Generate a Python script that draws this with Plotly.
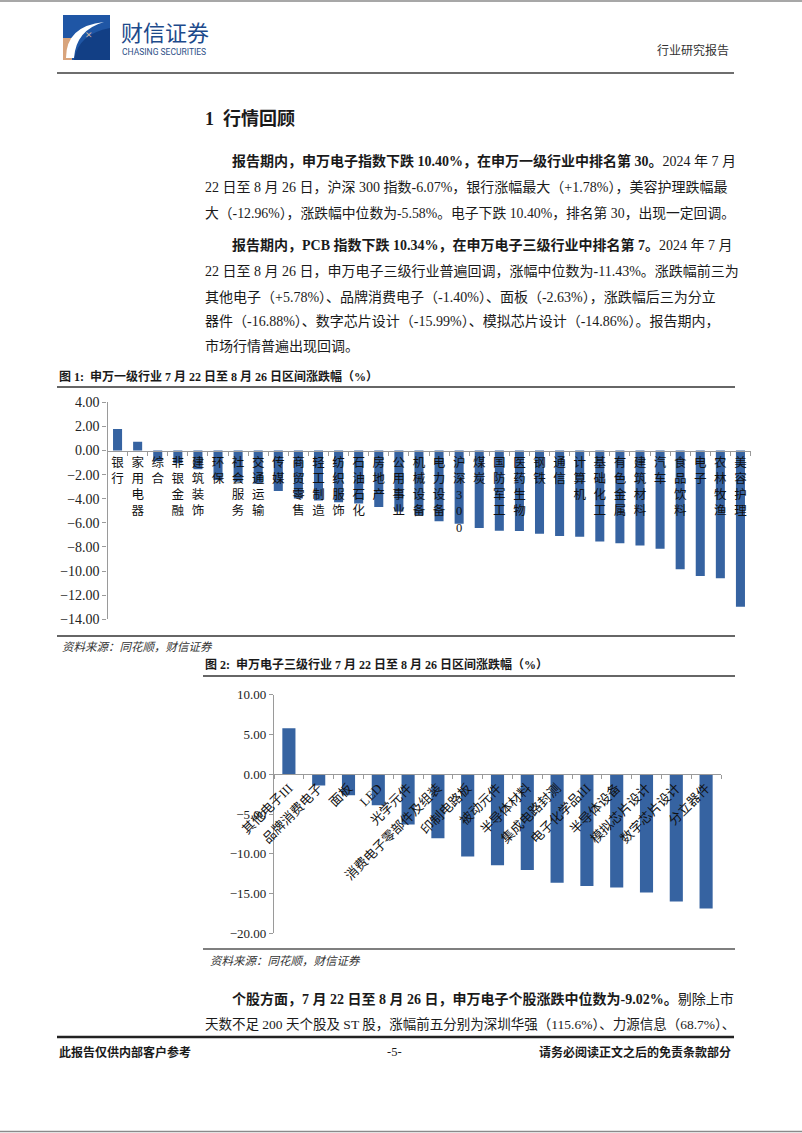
import plotly.graph_objects as go

# ---------------- data ----------------
ind_names = ["银行", "家用电器", "综合", "非银金融", "建筑装饰", "环保", "社会服务", "交通运输",
             "传媒", "商贸零售", "轻工制造", "纺织服饰", "石油石化", "房地产", "公用事业", "机械设备",
             "电力设备", "沪深300", "煤炭", "国防军工", "医药生物", "钢铁", "通信", "计算机",
             "基础化工", "有色金属", "建筑材料", "汽车", "食品饮料", "电子", "农林牧渔", "美容护理"]
ind_values = [1.78, 0.72, -0.88, -1.05, -1.55, -2.45, -2.60, -2.75,
              -3.35, -3.98, -4.15, -4.30, -4.40, -4.68, -5.05, -5.37,
              -5.87, -6.07, -6.42, -6.65, -6.67, -6.90, -7.08, -7.15,
              -7.55, -7.70, -7.88, -8.15, -9.85, -10.40, -10.60, -12.96]

sub_names = ["其他电子III", "品牌消费电子", "面板", "LED", "光学元件", "消费电子零部件及组装",
             "印制电路板", "被动元件", "半导体材料", "集成电路封测", "电子化学品III", "半导体设备",
             "模拟芯片设计", "数字芯片设计", "分立器件"]
sub_values = [5.78, -1.40, -2.63, -3.90, -6.30, -8.05, -10.34, -11.43, -12.05, -13.65,
              -14.05, -14.25, -14.86, -15.99, -16.88]

# ---------------- page geometry helpers ----------------
W, H = 802, 1133
def px(x):
    return x / W
def py(y):
    return 1 - y / H

FONT = "Liberation Serif, 'Noto Sans CJK SC', serif"
BAR = "#3663A1"
AXIS = "#9A9A9A"
TXT = "#1a1a1a"

fig = go.Figure()
fig.add_trace(go.Bar(x=ind_names, y=ind_values, xaxis="x", yaxis="y",
                     marker=dict(color=BAR, line=dict(width=0)), width=0.45,
                     showlegend=False, hoverinfo="x+y"))
fig.add_trace(go.Bar(x=sub_names, y=sub_values, xaxis="x2", yaxis="y2",
                     marker=dict(color=BAR, line=dict(width=0)), width=0.44,
                     showlegend=False, hoverinfo="x+y"))

# chart 1 axes
y1_range = [-14, 4]
y1_dom = [py(619.3), py(402.3)]
x1_pos = y1_dom[0] + (0 - y1_range[0]) / (y1_range[1] - y1_range[0]) * (y1_dom[1] - y1_dom[0])
stacked = ["<br>".join(list(n)) for n in ind_names]

# chart 2 axes
y2_range = [-20, 10]
y2_dom = [py(933.3), py(694.8)]
x2_pos = y2_dom[0] + (0 - y2_range[0]) / (y2_range[1] - y2_range[0]) * (y2_dom[1] - y2_dom[0])

fig.update_layout(
    width=W, height=H, margin=dict(l=0, r=0, t=0, b=0, pad=0, autoexpand=False),
    paper_bgcolor="white", plot_bgcolor="rgba(0,0,0,0)",
    font=dict(family=FONT, color=TXT),
    bargap=0.55,
    xaxis=dict(domain=[px(107.5), px(750.5)], anchor="free", position=x1_pos,
               type="category", range=[-0.5, len(ind_names) - 0.5], automargin=False,
               showline=True, linecolor=AXIS, linewidth=1.2,
               ticks="outside", tickson="boundaries", ticklen=4, tickcolor=AXIS,
               tickmode="array", tickvals=ind_names, ticktext=stacked, tickangle=0,
               tickfont=dict(family=FONT, size=12.5, color="#111"),
               showgrid=False, zeroline=False, fixedrange=True),
    yaxis=dict(domain=y1_dom, anchor="x", range=y1_range, dtick=2, tickformat=".2f",
               automargin=False,
               showline=True, linecolor=AXIS, linewidth=1.2, ticks="outside", ticklen=4,
               tickcolor=AXIS, showgrid=False, zeroline=False,
               tickfont=dict(family=FONT, size=14, color="#222")),
    xaxis2=dict(domain=[px(274), px(721)], anchor="free", position=x2_pos,
                type="category", range=[-0.5, len(sub_names) - 0.5], automargin=False,
                showline=True, linecolor=AXIS, linewidth=1.2,
                ticks="outside", tickson="boundaries", ticklen=4, tickcolor=AXIS,
                tickangle=-45, tickfont=dict(family=FONT, size=13, color="#111"),
                showgrid=False, zeroline=False),
    yaxis2=dict(domain=y2_dom, anchor="x2", range=y2_range, dtick=5, tickformat=".2f",
                automargin=False,
                showline=True, linecolor=AXIS, linewidth=1.2, ticks="outside", ticklen=4,
                tickcolor=AXIS, showgrid=False, zeroline=False,
                tickfont=dict(family=FONT, size=13, color="#222")),
)

# ---------------- page decorations ----------------
shapes = []
def hline(y, x0, x1, color, width):
    shapes.append(dict(type="line", xref="paper", yref="paper", x0=px(x0), x1=px(x1),
                       y0=py(y), y1=py(y), line=dict(color=color, width=width)))

hline(1, 0, 802, "#8a8a8a", 1.5)
hline(1131.5, 0, 802, "#8a8a8a", 1.5)
hline(73, 57, 734, "#6e6e6e", 2.2)
hline(387, 57, 735, "#333333", 1.6)
hline(636, 57, 735, "#333333", 1.4)
hline(676, 203, 735, "#333333", 1.6)
hline(949, 203, 735, "#555555", 1.4)
hline(1037, 57, 734, "#222222", 2.4)

# logo
shapes.append(dict(type="rect", xref="paper", yref="paper", x0=px(63), x1=px(110), y0=py(60), y1=py(15),
                   fillcolor="#1F56A5", line=dict(width=0)))
shapes.append(dict(type="rect", xref="paper", yref="paper", x0=px(63), x1=px(72), y0=py(60), y1=py(38),
                   fillcolor="#D8A47C", line=dict(width=0)))
shapes.append(dict(type="path", xref="paper", yref="paper",
                   path=f"M {px(66)},{py(58)} Q {px(66)},{py(26)} {px(104)},{py(22)} "
                        f"Q {px(76)},{py(30)} {px(74)},{py(58)} Z",
                   fillcolor="white", line=dict(width=0)))
shapes.append(dict(type="path", xref="paper", yref="paper",
                   path=f"M {px(74)},{py(60)} Q {px(78)},{py(34)} {px(110)},{py(28)} "
                        f"L {px(110)},{py(60)} Z",
                   fillcolor="#123F85", line=dict(width=0)))
fig.update_layout(shapes=shapes)

ann = []
def text(x, y, s, size=14, anchor="left", color=TXT, family=FONT):
    ann.append(dict(xref="paper", yref="paper", x=px(x), y=py(y), text=s, showarrow=False,
                    xanchor=anchor, yanchor="middle", align=anchor,
                    font=dict(size=size, color=color, family=family)))

text(88, 35, "×", size=13, anchor="center", color="#F0C9A0")
text(119, 31, "财信证券", size=22, color="#1D4A8B", family="'Noto Sans CJK SC'")
text(120, 52, "CHASING SECURITIES", size=8.5, color="#2B4E86", family="Roboto, Arial")
text(731, 50, "行业研究报告", size=12, anchor="right", color="#333")

text(203, 119, "<b>1  行情回顾</b>", size=18)

text(230, 161, "<b>报告期内，申万电子指数下跌 10.40%，在申万一级行业中排名第 30。</b>2024 年 7 月")
text(203, 187, "22 日至 8 月 26 日，沪深 300 指数-6.07%，银行涨幅最大（+1.78%），美容护理跌幅最")
text(203, 213, "大（-12.96%），涨跌幅中位数为-5.58%。电子下跌 10.40%，排名第 30，出现一定回调。", size=13.8)

text(230, 245, "<b>报告期内，PCB 指数下跌 10.34%，在申万电子三级行业中排名第 7。</b>2024 年 7 月")
text(203, 271, "22 日至 8 月 26 日，申万电子三级行业普遍回调，涨幅中位数为-11.43%。涨跌幅前三为")
text(203, 297, "其他电子（+5.78%）、品牌消费电子（-1.40%）、面板（-2.63%），涨跌幅后三为分立")
text(203, 322, "器件（-16.88%）、数字芯片设计（-15.99%）、模拟芯片设计（-14.86%）。报告期内，")
text(203, 346, "市场行情普遍出现回调。")

text(57, 376, "<b>图 1:  申万一级行业 7 月 22 日至 8 月 26 日区间涨跌幅（%）</b>", size=12)
text(60, 647, "<i>资料来源：同花顺，财信证券</i>", size=11.5, color="#333")
text(203, 664, "<b>图 2:  申万电子三级行业 7 月 22 日至 8 月 26 日区间涨跌幅（%）</b>", size=12)
text(208, 961, "<i>资料来源：同花顺，财信证券</i>", size=11.5, color="#333")

text(230, 999, "<b>个股方面，7 月 22 日至 8 月 26 日，申万电子个股涨跌中位数为-9.02%。</b>剔除上市")
text(203, 1024, "天数不足 200 天个股及 ST 股，涨幅前五分别为深圳华强（115.6%）、力源信息（68.7%）、", size=13.5)

text(57, 1052, "<b>此报告仅供内部客户参考</b>", size=12)
text(394, 1052, "-5-", size=12.5, anchor="center")
text(733, 1052, "<b>请务必阅读正文之后的免责条款部分</b>", size=12, anchor="right")

fig.update_layout(annotations=ann)

fig.write_html("out.html")
